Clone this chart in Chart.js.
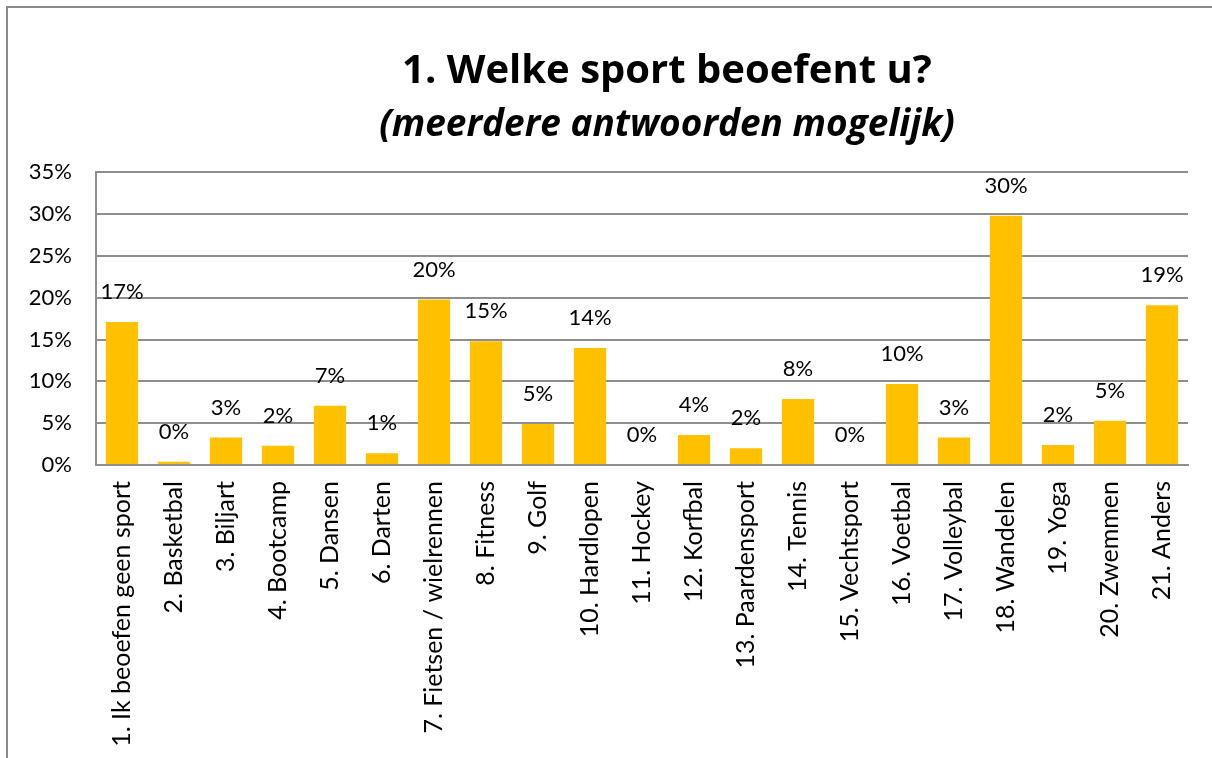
<!DOCTYPE html>
<html>
<head>
<meta charset="utf-8">
<script src="https://cdn.jsdelivr.net/npm/chart.js@4"></script>
<style>
  html, body { margin: 0; padding: 0; background: #fff; overflow: hidden; }
  #wrap { position: absolute; left: 0; top: 0; width: 1212px; height: 758px; }
</style>
</head>
<body>
<div id="wrap"><canvas id="myChart" width="1212" height="758"></canvas></div>
<script>
	// categorieën
	var sportLabels = [
		'1. Ik beoefen geen sport', '2. Basketbal', '3. Biljart', '4. Bootcamp', '5. Dansen',
		'6. Darten', '7. Fietsen / wielrennen', '8. Fitness', '9. Golf', '10. Hardlopen',
		'11. Hockey', '12. Korfbal', '13. Paardensport', '14. Tennis', '15. Vechtsport',
		'16. Voetbal', '17. Volleybal', '18. Wandelen', '19. Yoga', '20. Zwemmen', '21. Anders'
	];

	var sportValues = [17.1, 0.4, 3.3, 2.3, 7.1, 1.4, 19.8, 14.8, 4.9, 14.0, 0, 3.6, 2.0, 7.9, 0, 9.7, 3.3, 29.8, 2.4, 5.3, 19.1];

	// y-as
	var yTicks = [0, 5, 10, 15, 20, 25, 30, 35];

	var titleText = '1. Welke sport beoefent u?';
	var subtitleText = '(meerdere antwoorden mogelijk)';

	var FONT = 'Lato, "Open Sans", sans-serif';
	var TITLE_FONT = '"Open Sans", Lato, sans-serif';
	var gridColor = '#8e8e8e';

	// kader rond de grafiek
	var framePlugin = {
		id: 'frame',
		beforeDraw: function(chart) {
			var c = chart.ctx;
			c.save();
			c.fillStyle = '#fff';
			c.fillRect(0, 0, chart.width, chart.height);
			c.strokeStyle = '#8a8a8a';
			c.lineWidth = 2;
			c.beginPath();
			c.moveTo(7, chart.height + 5);
			c.lineTo(7, 7);
			c.lineTo(chart.width + 5, 7);
			c.stroke();
			c.restore();
		}
	};

	// titel iets naar rechts, zoals in Excel
	var titleShift = {
		id: 'titleShift',
		afterLayout: function(chart) {
			chart.boxes.forEach(function(box) {
				if (box.options && (box.options.text === titleText || box.options.text === subtitleText)) {
					box.left += 68;
					box.right += 68;
				}
			});
		}
	};

	// labels boven de staven
	var valueLabels = {
		id: 'valueLabels',
		afterDatasetsDraw: function(chart) {
			var c = chart.ctx;
			var meta = chart.getDatasetMeta(0);
			c.save();
			c.font = '22px ' + FONT;
			c.fillStyle = '#000';
			c.textAlign = 'center';
			c.textBaseline = 'middle';
			meta.data.forEach(function(bar, i) {
				var v = chart.data.datasets[0].data[i];
				c.fillText(Math.round(v) + '%', bar.x, bar.y - 30);
			});
			c.restore();
		}
	};

	var data = {
		labels: sportLabels,
		datasets: [{
			data: sportValues,
			backgroundColor: '#FFC000',
			borderWidth: 0,
			barPercentage: 0.62,
			categoryPercentage: 1
		}]
	};

	var options = {
		responsive: false,
		animation: false,
		layout: { padding: { left: 10, right: 24, top: 34, bottom: 0 } },
		plugins: {
			legend: { display: false },
			tooltip: { enabled: false },
			title: {
				display: true,
				text: titleText,
				color: '#000',
				font: { family: TITLE_FONT, size: 40, weight: 'bold', lineHeight: 1.2 },
				padding: { top: 14, bottom: 7 }
			},
			subtitle: {
				display: true,
				text: subtitleText,
				color: '#000',
				font: { family: TITLE_FONT, size: 37, weight: 'bold', style: 'italic', lineHeight: 1.2 },
				padding: { top: 0, bottom: 25 }
			}
		},
		scales: {
			x: {
				grid: { display: false, drawTicks: false },
				border: { display: true, color: gridColor, width: 2 },
				ticks: {
					color: '#000',
					font: { family: FONT, size: 25 },
					minRotation: 90,
					maxRotation: 90,
					autoSkip: false,
					padding: 16
				},
				afterFit: function(scale) { scale.height = 758 - 465; }
			},
			y: {
				min: 0,
				max: 35,
				afterBuildTicks: function(scale) {
					scale.ticks = yTicks.map(function(v) { return { value: v }; });
				},
				grid: { color: gridColor, lineWidth: 2, drawTicks: false },
				border: { display: true, color: gridColor, width: 2 },
				ticks: {
					color: '#000',
					font: { family: FONT, size: 22 },
					padding: 24,
					callback: function(v) { return v + '%'; }
				},
				afterFit: function(scale) { scale.width = 86; }
			}
		}
	};

	var ctx = document.getElementById('myChart').getContext('2d');

	var myChart = new Chart(ctx, {
		type: 'bar',
		data: data,
		options: options,
		plugins: [framePlugin, titleShift, valueLabels]
	});
</script>
</body>
</html>
